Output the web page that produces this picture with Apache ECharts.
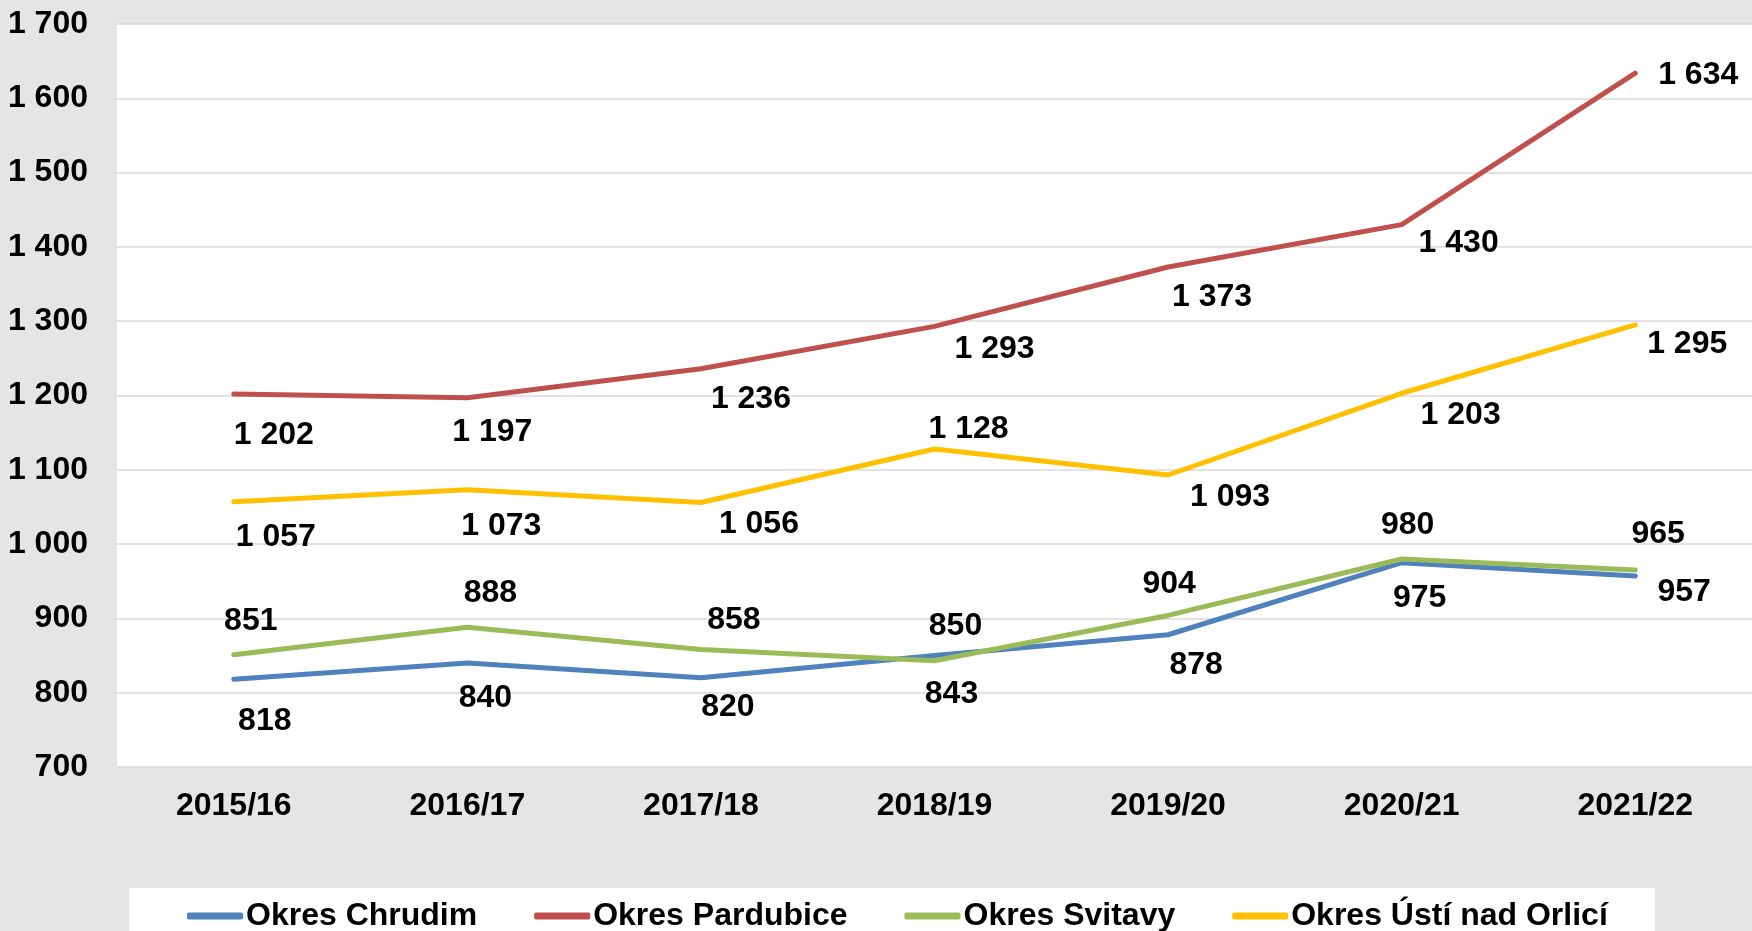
<!DOCTYPE html>
<html>
<head>
<meta charset="utf-8">
<script src="https://cdn.jsdelivr.net/npm/echarts@6/dist/echarts.min.js"></script>
<style>
  html, body { margin: 0; padding: 0; background: #e5e5e5; }
  #chart { width: 1752px; height: 931px; }
</style>
</head>
<body>
<div id="chart"></div>
<script>
// data
const years = ['2015/16', '2016/17', '2017/18', '2018/19', '2019/20', '2020/21', '2021/22']
const seriesNames = ['Okres Chrudim', 'Okres Pardubice', 'Okres Svitavy', 'Okres Ústí nad Orlicí']
const chrudim = [818, 840, 820, 850, 878, 975, 957]
const pardubice = [1202, 1197, 1236, 1293, 1373, 1430, 1634]
const svitavy = [851, 888, 858, 843, 904, 980, 965]
const usti = [1057, 1073, 1056, 1128, 1093, 1203, 1295]

// label placement (pixels from the point), like the hand-moved labels in the original
const chrudimOffsets = [[31, 42], [18, 35], [27, 29], [21, -29], [28, 30], [18, 35], [49, 16]]
const pardubiceOffsets = [[40, 41], [25, 34], [50, 30], [60, 23], [44, 30], [57, 19], [63, 2]]
const svitavyOffsets = [[17, -34], [23, -34], [33, -29], [17, 33], [1, -31], [6, -34], [23, -36]]
const ustiOffsets = [[42, 35], [34, 36], [58, 22], [34, -20], [62, 22], [59, 22], [52, 19]]

const colors = ['#4f81bd', '#c0504d', '#9bbb59', '#ffc000']
const font = 'Liberation Sans, Arial, sans-serif'

function fmt(v) {
  return String(v).replace(/\B(?=(\d{3})+(?!\d))/g, ' ')
}

function makeSeries(name, values, offsets, color) {
  return {
    name: name,
    type: 'line',
    symbol: 'circle',
    symbolSize: 1,
    color: color,
    lineStyle: { width: 5, color: color, cap: 'round', join: 'round' },
    itemStyle: { color: color },
    data: values.map((v, i) => ({
      value: v,
      label: { offset: offsets[i] }
    })),
    label: {
      show: true,
      position: 'inside',
      align: 'center',
      verticalAlign: 'middle',
      color: '#000',
      fontFamily: font,
      fontWeight: 'bold',
      fontSize: 32,
      formatter: p => fmt(p.value)
    },
    emphasis: { disabled: true },
    animation: false
  }
}

let myEcharts = echarts.init(document.getElementById('chart'))
let option = {
  backgroundColor: '#e5e5e5',
  animation: false,
  grid: {
    left: 117,
    right: 0,
    top: 24,
    bottom: 164,
    show: true,
    backgroundColor: '#fff',
    borderWidth: 0
  },
  legend: {
    left: 129,
    top: 888,
    backgroundColor: '#fff',
    padding: [12, 47, 30, 58],
    itemGap: 57,
    itemWidth: 56,
    itemHeight: 7,
    icon: 'roundRect',
    data: seriesNames,
    textStyle: {
      color: '#000',
      fontFamily: font,
      fontWeight: 'bold',
      fontSize: 32,
      padding: [0, 0, 0, -2]
    }
  },
  xAxis: {
    type: 'category',
    data: years,
    boundaryGap: true,
    axisLine: { show: false },
    axisTick: { show: false },
    axisLabel: {
      margin: 23,
      color: '#000',
      fontFamily: font,
      fontWeight: 'bold',
      fontSize: 32
    }
  },
  yAxis: {
    type: 'value',
    min: 700,
    max: 1700,
    interval: 100,
    axisLine: { show: false },
    axisTick: { show: false },
    splitLine: { lineStyle: { color: '#d9d9d9', width: 1.5 } },
    axisLabel: {
      margin: 29,
      color: '#000',
      fontFamily: font,
      fontWeight: 'bold',
      fontSize: 32,
      formatter: v => fmt(v)
    }
  },
  series: [
    makeSeries(seriesNames[0], chrudim, chrudimOffsets, colors[0]),
    makeSeries(seriesNames[1], pardubice, pardubiceOffsets, colors[1]),
    makeSeries(seriesNames[2], svitavy, svitavyOffsets, colors[2]),
    makeSeries(seriesNames[3], usti, ustiOffsets, colors[3])
  ]
}
option && myEcharts.setOption(option)
</script>
</body>
</html>
